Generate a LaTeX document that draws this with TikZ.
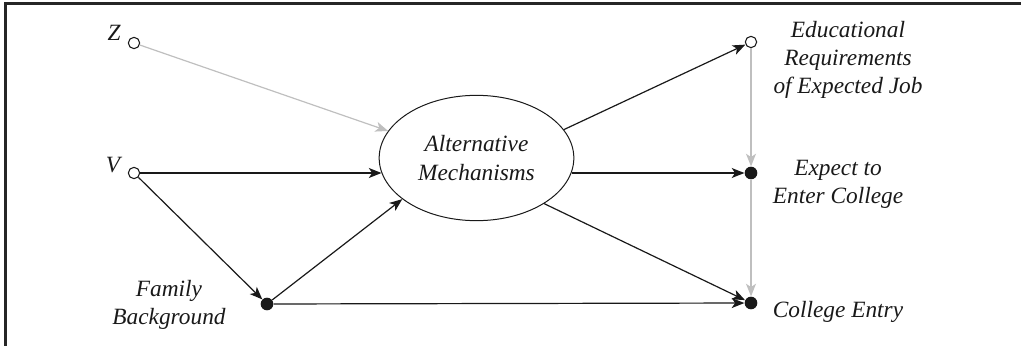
\documentclass[tikz,border=0pt]{standalone}
\usepackage{fontspec}
\setmainfont{Liberation Serif}
\usetikzlibrary{arrows.meta,shapes.geometric}
\begin{document}
\begin{tikzpicture}[x=0.75pt,y=-0.75pt,
  lab/.style={font=\fontsize{17.5}{21}\selectfont\itshape, align=center, inner sep=0pt, text=black!90},
  opendot/.style={circle,draw=black!90,fill=white,line width=0.8pt,minimum size=8.5pt,inner sep=0pt},
  fulldot/.style={circle,fill=black!90,minimum size=9.5pt,inner sep=0pt},
  tip/.style={-{Stealth[length=9.5pt,width=7.5pt,inset=2.5pt]}},
  blk/.style={draw=black!90,line width=0.9pt,tip},
  gry/.style={draw=black!25,line width=0.9pt,tip},
]
\useasboundingbox (0,0) rectangle (1021,346);
\draw[line width=2pt, black!85] (5.5,346) -- (5.5,3.5) -- (1021,3.5);

% nodes
\node[opendot] (z) at (134,43) {};
\node[opendot] (v) at (134,173) {};
\node[fulldot] (fam) at (267,304) {};
\node[ellipse,draw=black!90,line width=0.75pt,minimum width=146pt,minimum height=94pt,inner sep=0pt,
      font=\fontsize{17.5}{22}\selectfont\itshape,align=center,text=black!90] (ell) at (476.5,158) {Alternative\\Mechanisms};
\node[opendot] (edu) at (751,42) {};
\node[fulldot] (exp) at (751,173) {};
\node[fulldot] (coll) at (751,303) {};

% labels
\node[lab] (zl) at (114,33) {Z};
\node[lab] (vl) at (113,165) {V};
\node[lab] (faml) at (169,305) {Family\\Background};
\node[lab] (edul) at (848,60) {Educational\\Requirements\\of Expected Job};
\node[lab] (expl) at (838,184) {Expect to\\Enter College};
\node[lab] (colll) at (838,312) {College Entry};

% connectors
\draw[gry] (z) -- (ell.163);
\draw[blk] (v) -- (ell.189 |- v);
\draw[blk] (v) -- (fam);
\draw[blk] (fam) -- (ell.209);
\draw[blk] (fam) -- (coll);
\draw[blk] (ell.18) -- (edu);
\draw[blk] (ell.-9 |- exp) -- (exp);
\draw[blk] (ell.-34) -- (coll);
\draw[gry] (edu) -- (exp);
\draw[gry] (exp) -- (coll);
\end{tikzpicture}
\end{document}
